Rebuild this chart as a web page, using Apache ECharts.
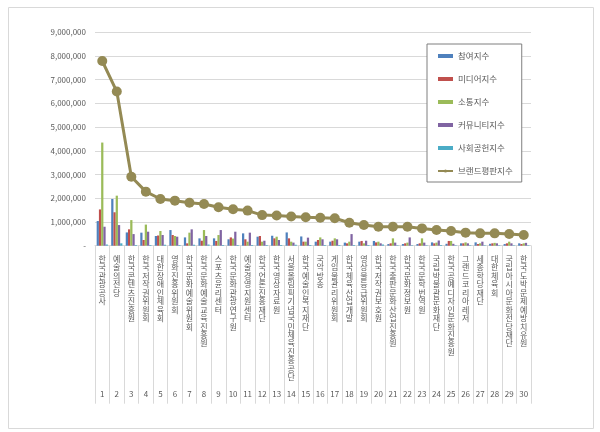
<!DOCTYPE html>
<html>
<head>
<meta charset="utf-8">
<script src="https://cdn.jsdelivr.net/npm/echarts@6/dist/echarts.min.js"></script>
<style>
html,body{margin:0;padding:0;background:#fff;}
#chart{width:600px;height:432px;}
</style>
</head>
<body>
<div id="chart"></div>
<script>
var categories = ['한국관광공사','예술의전당','한국콘텐츠진흥원','한국저작권위원회','대한장애인체육회','영화진흥위원회','한국문화예술위원회','한국문화예술교육진흥원','스포츠윤리센터','한국문화관광연구원','예술경영지원센터','한국언론진흥재단','한국영상자료원','서울올림픽기념국민체육진흥공단','한국예술인복지재단','국악방송','게임물관리위원회','한국체육산업개발','영상물등급위원회','한국저작권보호원','한국출판문화산업진흥원','한국문화정보원','한국문학번역원','국립박물관문화재단','한국공예디자인문화진흥원','그랜드코리아레저','세종학당재단','대한체육회','국립아시아문화전당재단','한국도박문제예방치유원'];
var ranks = ['1','2','3','4','5','6','7','8','9','10','11','12','13','14','15','16','17','18','19','20','21','22','23','24','25','26','27','28','29','30'];
var participation = [1040000,1970000,560000,550000,410000,660000,350000,310000,310000,270000,520000,380000,420000,560000,390000,170000,170000,130000,170000,200000,70000,70000,70000,140000,80000,100000,140000,80000,70000,100000];
var media = [1530000,1410000,690000,240000,430000,450000,100000,210000,200000,350000,270000,410000,310000,310000,170000,240000,210000,100000,200000,140000,100000,100000,100000,100000,200000,100000,70000,100000,100000,70000];
var communication = [4350000,2110000,1080000,890000,620000,410000,550000,660000,450000,300000,170000,170000,380000,170000,170000,350000,310000,170000,100000,170000,310000,130000,310000,130000,200000,140000,100000,120000,170000,100000];
var community = [800000,870000,490000,590000,450000,380000,690000,410000,660000,590000,550000,210000,240000,130000,340000,270000,270000,490000,210000,100000,130000,350000,130000,220000,80000,100000,170000,100000,100000,120000];
var contribution = [50000,100000,30000,30000,40000,30000,40000,50000,30000,30000,30000,30000,30000,40000,30000,30000,30000,30000,30000,50000,20000,20000,20000,30000,20000,20000,20000,20000,20000,20000];
var brand = [7790000,6500000,2910000,2280000,1970000,1900000,1810000,1760000,1620000,1540000,1480000,1290000,1270000,1230000,1200000,1180000,1160000,970000,870000,800000,800000,800000,730000,660000,620000,550000,520000,520000,490000,450000];
var seriesNames = ['참여지수','미디어지수','소통지수','커뮤니티지수','사회공헌지수','브랜드평판지수'];

var chart = echarts.init(document.getElementById('chart'));
var font = 'Noto Sans CJK KR';
var gray = '#595959';
var NUM_LINE = 16;
function bar(name, data, color) {
  return {name: name, type: 'bar', data: data, barGap: '0%', barCategoryGap: '23%',
    itemStyle: {color: color}};
}
chart.setOption({
  animation: false,
  textStyle: {fontFamily: font},
  graphic: [{type: 'rect', shape: {x: 8.5, y: 7.5, width: 585, height: 421},
    style: {fill: 'none', stroke: '#d9d9d9', lineWidth: 1}, silent: true}],
  grid: {left: 95, right: 69, top: 32.3, bottom: 186.3},
  legend: {
    orient: 'vertical', left: 427, top: 44,
    padding: [6, 9, 5, 10], itemGap: 11, itemWidth: 15, itemHeight: 4,
    backgroundColor: '#fff', borderColor: '#7f7f7f', borderWidth: 1,
    textStyle: {fontFamily: font, fontSize: 8.5, color: gray, lineHeight: 12},
    data: seriesNames.map(function (n, i) { return i < 5 ? {name: n, icon: 'rect'} : {name: n}; })
  },
  xAxis: {
    type: 'category', data: categories, position: 'bottom',
    axisLine: {lineStyle: {color: '#d9d9d9'}},
    axisTick: {show: true, interval: 0, length: 158, lineStyle: {color: '#d9d9d9'}},
    axisLabel: {interval: 0, margin: 9, verticalAlign: 'top', fontSize: 8, lineHeight: 8.45,
      color: gray, fontFamily: font,
      formatter: function (v, idx) {
        var lines = v.split('');
        while (lines.length < NUM_LINE) lines.push('');
        lines.push(ranks[idx]);
        return lines.join('\n');
      }}
  },
  yAxis: {
    type: 'value', min: 0, max: 9000000, interval: 1000000,
    axisLine: {show: false}, axisTick: {show: false},
    splitLine: {lineStyle: {color: '#d9d9d9'}},
    axisLabel: {fontSize: 8, color: gray, margin: 9, fontFamily: font,
      formatter: function (v) { return v === 0 ? '-' : v.toLocaleString('en-US'); }}
  },
  series: [
    bar(seriesNames[0], participation, '#4F81BD'),
    bar(seriesNames[1], media, '#C0504D'),
    bar(seriesNames[2], communication, '#9BBB59'),
    bar(seriesNames[3], community, '#8064A2'),
    bar(seriesNames[4], contribution, '#4BACC6'),
    {name: seriesNames[5], type: 'line', data: brand, symbol: 'circle', symbolSize: 10, z: 5,
      itemStyle: {color: '#948A54'}, lineStyle: {color: '#948A54', width: 3}}
  ]
});
</script>
</body>
</html>
